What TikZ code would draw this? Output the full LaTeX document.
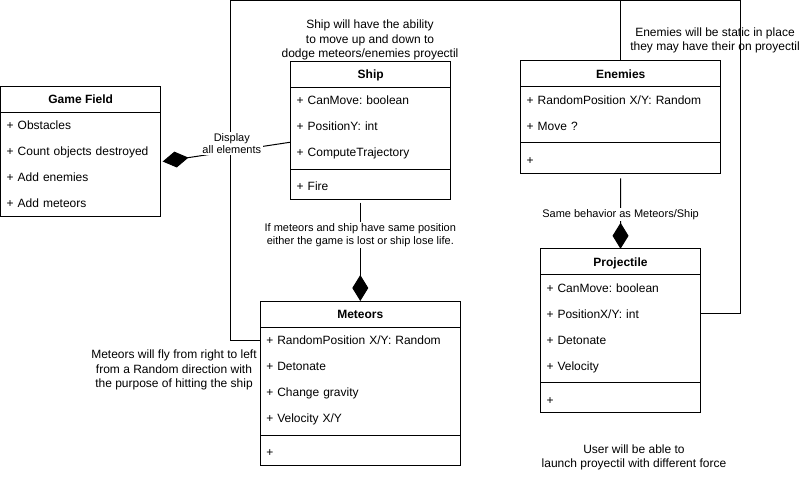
\documentclass[tikz,border=0pt]{standalone}
\usepackage{fontspec}
\setmainfont{Liberation Sans}
\usetikzlibrary{positioning, arrows.meta}
\frenchspacing

\begin{document}
\begin{tikzpicture}[x=0.75pt, y=-0.75pt, line width=0.75pt, node distance=0pt,
    classhead/.style={draw, minimum width=#1, minimum height=19.5pt, inner sep=0pt, outer sep=0pt,
        text height=7.6pt, text depth=0.9pt, font=\fontsize{9pt}{11pt}\selectfont\bfseries},
    member/.style={text width=#1, inner xsep=4.5pt, inner ysep=0pt, outer sep=0pt, minimum height=19.5pt,
        text height=7.6pt, text depth=0.9pt, align=left, font=\fontsize{9pt}{11pt}\selectfont},
    note/.style={align=center, inner sep=0pt, font=\fontsize{9pt}{10.8pt}\selectfont},
    edgelabel/.style={fill=white, align=center, inner sep=1pt, font=\fontsize{8.25pt}{9.3pt}\selectfont},
    composition/.style={-{Diamond[length=19.5pt, width=12pt]}}]

    \useasboundingbox (0,0) rectangle (811,478);

    % 1. Game Field
    \node[classhead=120pt] (gamefield) at (80.7,99.5) {Game Field};
    \node[member=111pt, below=of gamefield] (gf1) {+ Obstacles};
    \node[member=111pt, below=of gf1] (gf2) {+ Count objects destroyed};
    \node[member=111pt, below=of gf2] (gf3) {+ Add enemies};
    \node[member=111pt, below=of gf3] (gf4) {+ Add meteors};
    \draw (gamefield.north west) rectangle (gf4.south east);

    % 2. Ship
    \node[classhead=120pt] (ship) at (370.7,74.5) {Ship};
    \node[member=111pt, below=of ship] (ship1) {+ CanMove: boolean};
    \node[member=111pt, below=of ship1] (ship2) {+ PositionY: int};
    \node[member=111pt, below=of ship2] (ship3) {+ ComputeTrajectory};
    \node[member=111pt, below=6pt of ship3] (shipfire) {+ Fire};
    \draw ([yshift=-3pt]ship3.south west) -- ([yshift=-3pt]ship3.south east);
    \draw (ship.north west) rectangle (shipfire.south east);

    % 3. Enemies
    \node[classhead=150pt] (enemies) at (620.7,74) {Enemies};
    \node[member=141pt, below=of enemies] (en1) {+ RandomPosition X/Y: Random};
    \node[member=141pt, below=of en1] (en2) {+ Move ?};
    \node[member=141pt, below=6pt of en2] (enplus) {+};
    \draw ([yshift=-3pt]en2.south west) -- ([yshift=-3pt]en2.south east);
    \draw (enemies.north west) rectangle (enplus.south east);

    % 4. Projectile
    \node[classhead=120pt] (proj) at (620.5,261.8) {Projectile};
    \node[member=111pt, below=of proj] (pr1) {+ CanMove: boolean};
    \node[member=111pt, below=of pr1] (pr2) {+ PositionX/Y: int};
    \node[member=111pt, below=of pr2] (pr3) {+ Detonate};
    \node[member=111pt, below=of pr3] (pr4) {+ Velocity};
    \node[member=111pt, below=6pt of pr4] (prplus) {+};
    \draw ([yshift=-3pt]pr4.south west) -- ([yshift=-3pt]pr4.south east);
    \draw (proj.north west) rectangle (prplus.south east);

    % 5. Meteors
    \node[classhead=150pt] (meteors) at (360.3,314) {Meteors};
    \node[member=141pt, below=of meteors] (me1) {+ RandomPosition X/Y: Random};
    \node[member=141pt, below=of me1] (me2) {+ Detonate};
    \node[member=141pt, below=of me2] (me3) {+ Change gravity};
    \node[member=141pt, below=of me3] (me4) {+ Velocity X/Y};
    \node[member=141pt, below=6pt of me4] (meplus) {+};
    \draw ([yshift=-3pt]me4.south west) -- ([yshift=-3pt]me4.south east);
    \draw (meteors.north west) rectangle (meplus.south east);

    % 6. Notes
    \node[note] (shipnote) at (370,40) {Ship will have the ability\\to move up and down to\\dodge meteors/enemies proyectil};
    \node[note] (enemynote) at (715,40.5) {Enemies will be static in place\\they may have their on proyectil};
    \node[note] (meteornote) at (174,370) {Meteors will fly from right to left\\from a Random direction with\\the purpose of hitting the ship};
    \node[note] (usernote) at (634,457.5) {User will be able to\\launch proyectil with different force};

    % 7. Connectors
    \coordinate (topright) at (740,0.7);
    \draw (pr2.east) -| (topright) -| ([xshift=-22.2pt]me1.west) -- (me1.west);
    \draw (enemies.north) -- (enemies.north |- topright);
    \draw[composition, shorten <=2.25pt] (meteors.north |- shipfire.south) -- node[edgelabel, pos=0.35] {If meteors and ship have same position\\either the game is lost or ship lose life.} (meteors.north);
    \draw[composition, shorten <=4pt] (enplus.south) -- node[edgelabel, pos=0.55] {Same behavior as Meteors/Ship} (proj.north);
    \draw[composition] ([yshift=-2pt]ship3.north west) -- node[edgelabel, pos=0.46, yshift=5.7pt] {Display\\all elements} ([xshift=1.5pt, yshift=2.25pt]gf2.south east);
\end{tikzpicture}
\end{document}
